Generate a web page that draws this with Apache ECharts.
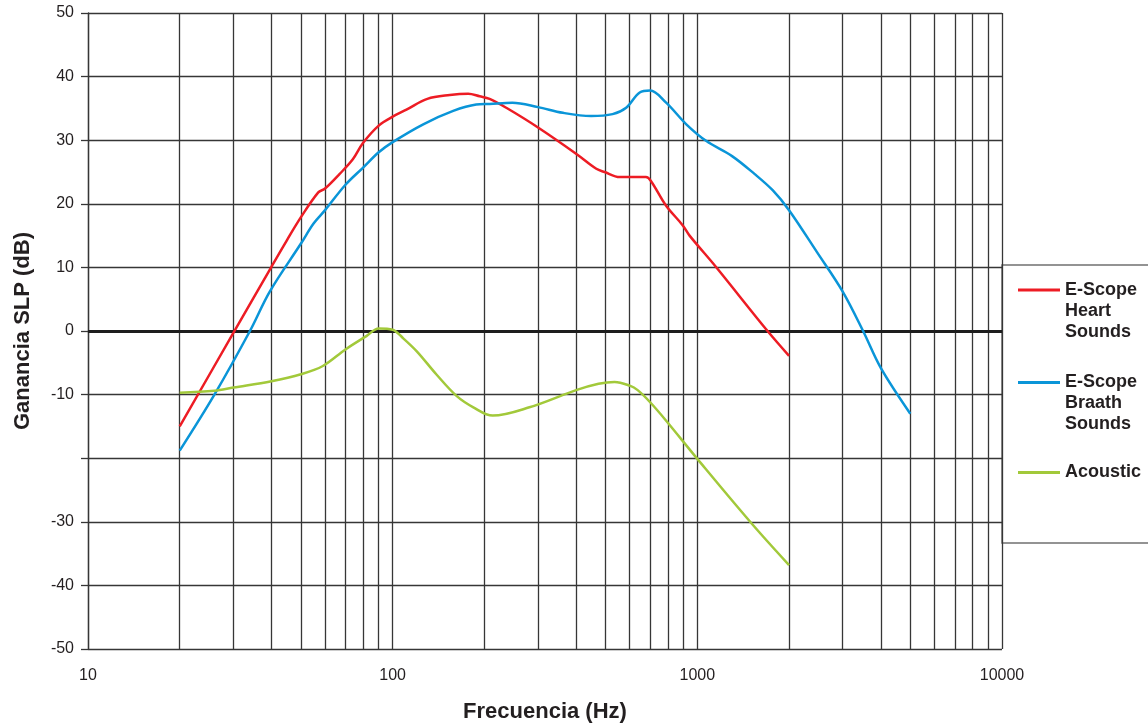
<!DOCTYPE html>
<html>
<head>
<meta charset="utf-8">
<script src="https://cdn.jsdelivr.net/npm/echarts@6/dist/echarts.min.js"></script>
<style>
html,body{margin:0;padding:0;background:#fff;}
#chart{width:1148px;height:728px;}
</style>
</head>
<body>
<div id="chart"></div>
<script>
// ---- data ----
var seriesNames = ['E-Scope\nHeart\nSounds', 'E-Scope\nBraath\nSounds', 'Acoustic'];

var heartFreq = [20, 30, 40, 45, 50, 57, 60, 67, 74, 80, 90, 100, 111, 130, 154, 177, 193, 208, 236, 300, 402, 466, 496, 556, 678, 704, 790, 896, 943, 1150, 1700, 2000];
var heartDb   = [-15, -0.3, 10.1, 14.3, 17.9, 21.8, 22.4, 24.7, 27, 29.6, 32.3, 33.7, 34.8, 36.5, 37.1, 37.3, 36.9, 36.5, 35.1, 32, 27.8, 25.5, 25, 24.2, 24.2, 23.6, 19.7, 16.6, 15, 10.1, 0, -3.9];

var breathFreq = [20, 26, 34, 39.5, 50, 55, 60, 70, 80, 90, 100, 126, 158, 188, 208, 247, 300, 362, 448, 527, 584, 647, 700, 790, 920, 1068, 1300, 1540, 1770, 2000, 2470, 3000, 3500, 4000, 5000];
var breathDb   = [-18.8, -10, 0, 6.2, 13.75, 16.9, 19, 23, 25.7, 28.1, 29.7, 32.5, 34.6, 35.6, 35.7, 35.9, 35.2, 34.3, 33.8, 34.1, 35.1, 37.5, 37.8, 35.9, 32.5, 29.9, 27.5, 24.7, 22.1, 19, 12.4, 6.2, 0, -5.8, -13];

var acousticFreq = [20, 26, 30, 40, 50, 59, 70, 82, 90, 100, 108, 120, 139, 162, 184, 213, 281, 400, 474, 535, 600, 637, 700, 790, 1000, 1510, 2000];
var acousticDb   = [-9.7, -9.4, -8.9, -7.9, -6.8, -5.5, -2.9, -0.8, 0.4, 0.2, -1.1, -3.2, -6.8, -10.2, -12, -13.3, -12, -9.3, -8.3, -8.0, -8.6, -9.3, -11.2, -14.1, -20.1, -30.3, -36.8];

var xGridTicks = [10, 20, 30, 40, 50, 60, 70, 80, 90, 100, 200, 300, 400, 500, 600, 700, 800, 900, 1000, 2000, 3000, 4000, 5000, 6000, 7000, 8000, 9000, 10000];
var xTickLabels = [10, 100, 1000, 10000];
var yTickValues = [-50, -40, -30, -20, -10, 0, 10, 20, 30, 40, 50];
var yTickLabels = ['-50', '-40', '-30', '', '-10', '0', '10', '20', '30', '40', '50'];

var colors = ['#ed1c24', '#0a95d8', '#a2c93a'];

function pairs(xs, ys) {
  var out = [];
  for (var i = 0; i < xs.length; i++) out.push([xs[i], ys[i]]);
  return out;
}

var FONT = '"Liberation Sans", Arial, Helvetica, sans-serif';
var GRID_COLOR = '#363636';

var chart = echarts.init(document.getElementById('chart'), null, {renderer: 'canvas'});

function legendFor(name, top, multi) {
  return {
    show: true,
    orient: 'vertical',
    left: 1013,
    top: top,
    icon: 'rect',
    itemWidth: 42,
    itemHeight: 3,
    selectedMode: false,
    data: [name],
    formatter: function (n) { return multi ? '\n\n' + n : n; },
    textStyle: {
      fontFamily: FONT,
      fontSize: 18,
      fontWeight: 'bold',
      color: '#231f20',
      lineHeight: 21
    }
  };
}

var option = {
  animation: false,
  backgroundColor: '#ffffff',
  textStyle: {fontFamily: FONT},
  grid: {left: 88, right: 146, top: 13, bottom: 75},
  graphic: [{
    type: 'rect',
    z: -10,
    shape: {x: 1002, y: 265, width: 170, height: 278},
    style: {fill: '#ffffff', stroke: '#707070', lineWidth: 1.5}
  }],
  legend: [
    legendFor(seriesNames[0], 232.5, true),
    legendFor(seriesNames[1], 325, true),
    legendFor(seriesNames[2], 457, false)
  ],
  xAxis: {
    type: 'log',
    logBase: 10,
    min: 10,
    max: 10000,
    name: 'Frecuencia (Hz)',
    nameLocation: 'middle',
    nameGap: 52,
    nameTextStyle: {fontFamily: FONT, fontSize: 22, fontWeight: 'bold', color: '#231f20'},
    axisLine: {show: true, lineStyle: {color: GRID_COLOR, width: 1.3}},
    axisTick: {show: false, customValues: xGridTicks},
    axisLabel: {
      customValues: xTickLabels,
      fontFamily: FONT, fontSize: 16, color: '#231f20', margin: 19,
      formatter: function (v) { return String(Math.round(v)); }
    },
    splitLine: {show: true, lineStyle: {color: GRID_COLOR, width: 1.3}}
  },
  yAxis: {
    type: 'value',
    min: -50,
    max: 50,
    interval: 10,
    name: 'Ganancia SLP (dB)',
    nameLocation: 'middle',
    nameRotate: 90,
    nameGap: 54,
    nameTextStyle: {fontFamily: FONT, fontSize: 22, fontWeight: 'bold', color: '#231f20'},
    axisLine: {show: true, lineStyle: {color: GRID_COLOR, width: 1.3}},
    axisTick: {show: true, length: 7, lineStyle: {color: GRID_COLOR, width: 1.3}},
    axisLabel: {
      fontFamily: FONT, fontSize: 16, color: '#231f20', margin: 14,
      formatter: function (v) {
        var i = yTickValues.indexOf(Math.round(v));
        return i >= 0 ? yTickLabels[i] : '';
      }
    },
    splitLine: {show: true, lineStyle: {color: GRID_COLOR, width: 1.3}}
  },
  series: [
    {
      name: seriesNames[0], type: 'line', data: pairs(heartFreq, heartDb),
      showSymbol: false, symbol: 'none', smooth: 0.35, z: 5,
      lineStyle: {color: colors[0], width: 2.5}, itemStyle: {color: colors[0]},
      markLine: {
        silent: true, symbol: 'none', label: {show: false},
        lineStyle: {color: '#1e1e1e', width: 2.8, type: 'solid'},
        data: [{yAxis: 0}], z: 3
      }
    },
    {
      name: seriesNames[1], type: 'line', data: pairs(breathFreq, breathDb),
      showSymbol: false, symbol: 'none', smooth: 0.35, z: 5,
      lineStyle: {color: colors[1], width: 2.5}, itemStyle: {color: colors[1]}
    },
    {
      name: seriesNames[2], type: 'line', data: pairs(acousticFreq, acousticDb),
      showSymbol: false, symbol: 'none', smooth: 0.35, z: 5,
      lineStyle: {color: colors[2], width: 2.5}, itemStyle: {color: colors[2]}
    }
  ]
};

chart.setOption(option);
</script>
</body>
</html>
